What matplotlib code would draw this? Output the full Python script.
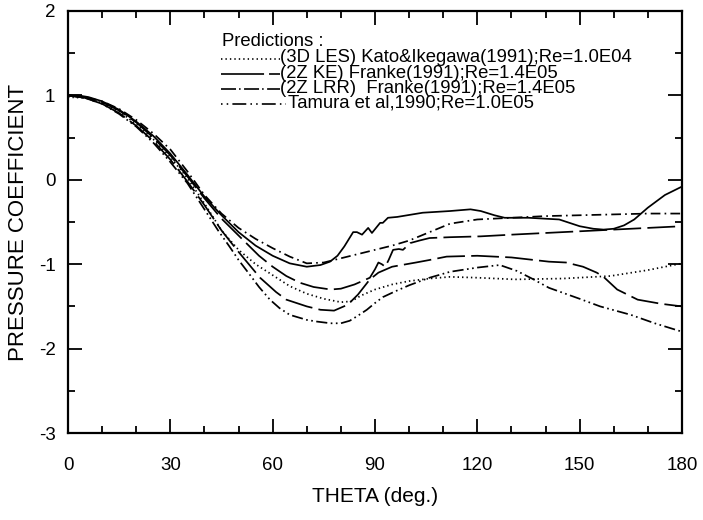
import matplotlib
matplotlib.use('Agg')
import matplotlib.pyplot as plt
from matplotlib.lines import Line2D
from matplotlib.ticker import MultipleLocator

plt.rcParams['font.family'] = ['Liberation Sans', 'DejaVu Sans']
plt.rcParams['axes.unicode_minus'] = False
plt.rcParams['lines.scale_dashes'] = False

# ---------------- data ----------------
theta_solid = [0, 3, 6, 10, 15, 20, 25, 30, 35, 40, 45, 50, 55, 60, 65, 70, 74, 76.8, 79, 81,
               83.6, 84.7, 86.2, 88, 89.1, 91.5, 92.3, 93.8, 96.5, 104, 112, 118, 121, 125, 128,
               135, 144, 150, 154, 157, 160, 163, 166, 170, 175, 180]
cp_solid = [1.0, 1.0, 0.98, 0.93, 0.83, 0.69, 0.52, 0.31, 0.06, -0.2, -0.42, -0.62, -0.78, -0.9,
            -0.99, -1.03, -1.01, -0.97, -0.9, -0.79, -0.62, -0.62, -0.65, -0.57, -0.63, -0.51,
            -0.51, -0.45, -0.44, -0.39, -0.37, -0.35, -0.37, -0.42, -0.45, -0.45, -0.47, -0.55,
            -0.58, -0.59, -0.58, -0.54, -0.47, -0.33, -0.18, -0.08]

theta_lrr = [0, 5, 10, 15, 20, 25, 30, 35, 40, 45, 50, 55, 60, 65, 70, 75, 80, 85, 90, 95, 100,
             106, 112, 120, 130, 140, 150, 160, 170, 180]
cp_lrr = [1.0, 0.98, 0.93, 0.84, 0.71, 0.55, 0.36, 0.1, -0.18, -0.4, -0.57, -0.7, -0.81, -0.91,
          -0.99, -0.98, -0.93, -0.88, -0.83, -0.78, -0.72, -0.62, -0.52, -0.47, -0.45, -0.43,
          -0.42, -0.41, -0.40, -0.40]

theta_ke_a = [0, 5, 10, 15, 20, 25, 30, 35, 40, 45, 50, 53, 56, 60, 64, 68, 72, 77, 80, 84, 88.5,
              90, 91, 92, 93, 94, 95.3, 97, 98.2, 100.3, 103, 106, 112, 121, 130, 140, 150, 160,
              170, 180]
cp_ke_a = [1.0, 0.98, 0.92, 0.82, 0.68, 0.5, 0.29, 0.04, -0.22, -0.46, -0.66, -0.78, -0.9, -1.03,
           -1.14, -1.22, -1.27, -1.3, -1.29, -1.24, -1.16, -1.06, -0.98, -1.0, -1.03, -0.95,
           -0.83, -0.82, -0.83, -0.75, -0.72, -0.69, -0.68, -0.67, -0.65, -0.63, -0.61, -0.59,
           -0.57, -0.55]

theta_les = [0, 5, 10, 15, 20, 25, 30, 35, 40, 45, 50, 55, 60, 65, 70, 75, 80, 83, 86, 90, 95,
             100, 106, 112, 120, 131, 145, 159, 170, 180]
cp_les = [0.98, 0.97, 0.91, 0.81, 0.66, 0.48, 0.27, 0.02, -0.28, -0.6, -0.83, -1.0, -1.13, -1.26,
          -1.35, -1.41, -1.45, -1.44, -1.37, -1.3, -1.24, -1.2, -1.17, -1.15, -1.16, -1.18, -1.17,
          -1.14, -1.07, -0.99]

theta_ke_b = [0, 5, 10, 15, 20, 25, 30, 35, 40, 42.5, 45, 49.5, 53, 56.3, 61, 64, 70, 74, 78, 82,
              85, 88.5, 91, 95, 102, 106, 111, 120, 130, 141, 146, 151, 155, 157, 161, 167, 174,
              180]
cp_ke_b = [1.0, 0.97, 0.9, 0.79, 0.64, 0.46, 0.24, -0.02, -0.3, -0.45, -0.6, -0.83, -1.0, -1.16,
           -1.33, -1.42, -1.5, -1.54, -1.55, -1.48, -1.36, -1.18, -1.1, -1.03, -0.98, -0.95,
           -0.91, -0.9, -0.92, -0.97, -0.98, -1.03, -1.1, -1.15, -1.3, -1.42, -1.47, -1.5]

theta_tamura = [0, 5, 10, 15, 20, 25, 30, 35, 40, 41.6, 44, 47.5, 50, 53.4, 56, 59.2, 62, 65, 70,
                73, 77, 80, 82.6, 85, 87.6, 90, 92.3, 96, 100, 106, 112, 120, 126.6, 131.6, 136,
                141, 150, 156, 165, 172, 180]
cp_tamura = [1.0, 0.97, 0.9, 0.78, 0.63, 0.44, 0.21, -0.04, -0.35, -0.45, -0.6, -0.8, -0.95, -1.13,
             -1.27, -1.42, -1.52, -1.6, -1.66, -1.68, -1.7, -1.7, -1.67, -1.61, -1.54, -1.46, -1.39,
             -1.32, -1.25, -1.16, -1.09, -1.04, -1.01, -1.08, -1.17, -1.28, -1.41, -1.5, -1.6, -1.7,
             -1.8]

legend_title = "Predictions :"
legend_labels = ["(3D LES) Kato&Ikegawa(1991);Re=1.0E04",
                 "(2Z KE) Franke(1991);Re=1.4E05",
                 "(2Z LRR)  Franke(1991);Re=1.4E05",
                 "Tamura et al,1990;Re=1.0E05"]
x_ticks = [0, 30, 60, 90, 120, 150, 180]
y_ticks = [-3, -2, -1, 0, 1, 2]

# ---------------- styles ----------------
LS_DOT = (0, (1.0, 2.2))
LS_LONG = (0, (20, 4.5))
LS_DASHDOT = (0, (7, 3, 1.2, 3))
LS_DASHDOTDOT = (0, (8, 2.5, 1.2, 2.5, 1.2, 2.5))

W, H = 703, 520
fig = plt.figure(figsize=(W / 100, H / 100), dpi=100)
ax = fig.add_axes([68 / W, 1 - 433 / H, (682 - 68) / W, (433 - 11) / H])

lw = 1.25
ax.plot(theta_solid, cp_solid, color='k', lw=lw, ls='-')
ax.plot(theta_lrr, cp_lrr, color='k', lw=lw, ls=LS_DASHDOT)
ax.plot(theta_ke_a, cp_ke_a, color='k', lw=lw, ls=LS_LONG)
ax.plot(theta_ke_b, cp_ke_b, color='k', lw=lw, ls=LS_LONG)
ax.plot(theta_les, cp_les, color='k', lw=lw, ls=LS_DOT)
ax.plot(theta_tamura, cp_tamura, color='k', lw=lw, ls=LS_DASHDOTDOT)

ax.set_xlim(0, 180)
ax.set_ylim(-3, 2)
ax.set_xticks(x_ticks)
ax.set_yticks(y_ticks)
ax.xaxis.set_minor_locator(MultipleLocator(10))
ax.yaxis.set_minor_locator(MultipleLocator(0.5))
ax.tick_params(which='both', direction='in', top=True, right=True, width=1.3, colors='k')
ax.tick_params(which='major', length=10)
ax.tick_params(which='minor', length=5)
ax.tick_params(axis='x', which='major', pad=17, labelsize=13.5)
ax.tick_params(axis='y', which='major', pad=9, labelsize=13.5)
for s in ax.spines.values():
    s.set_linewidth(1.6)

ax.set_xlabel("THETA (deg.)", fontsize=15, va='center')
ax.xaxis.set_label_coords(0.5, (433 - 497) / 422)
ax.set_ylabel("PRESSURE COEFFICIENT", fontsize=16, va='center')
ax.yaxis.set_label_coords((19 - 68) / 614, 0.5)

# ---------------- legend (manual, tight rows as in the reference) ----------------
def fx(px):
    return px / W

def fy(py):
    return 1 - py / H

fs_leg = 13.3
fig.text(fx(222), fy(42), legend_title, fontsize=fs_leg, va='center', ha='left')
rows_y = [58, 73, 88, 103]
text_x = [280, 280, 280, 288]
handle_styles = [LS_DOT, (0, (31, 3.6, 9, 100)), (0, (10.8, 2.2, 1.1, 2.5)),
                 (0, (1.1, 3, 1.1, 3, 10, 3))]
handle_x1 = [280, 280, 280, 286]
for lab, y, tx, hs, hx1 in zip(legend_labels, rows_y, text_x, handle_styles, handle_x1):
    fig.add_artist(Line2D([fx(221), fx(hx1)], [fy(y + 1), fy(y + 1)], transform=fig.transFigure,
                          color='k', lw=1.2, ls=hs))
    fig.text(fx(tx), fy(y), lab, fontsize=fs_leg, va='center', ha='left')

fig.savefig('out.png', dpi=100)
